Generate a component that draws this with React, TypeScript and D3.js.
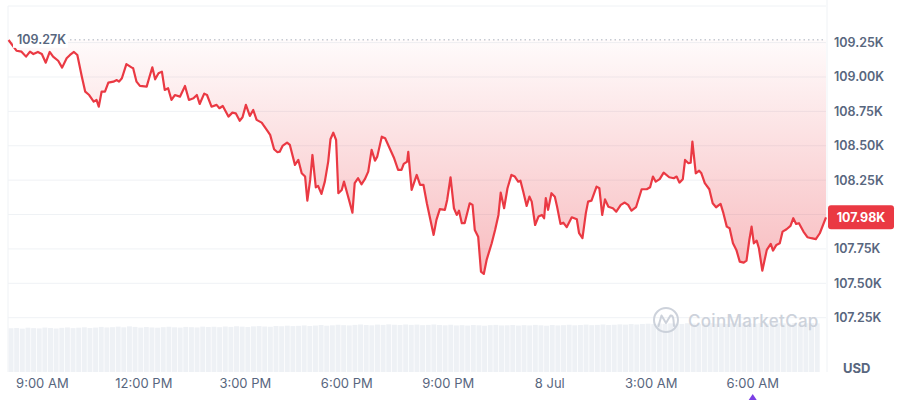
import * as d3 from 'd3';

// 7 Jul, minutes after 08:00 for each price read
const START = new Date(2025, 6, 7, 8, 0);
const minutes = [
  0, 14, 23, 31, 38, 44, 52, 59, 66, 73, 79, 88, 95, 103, 109, 116, 122, 130, 136, 143,
  151, 156, 160, 165, 171, 177, 186, 192, 196, 201, 209, 218, 221, 227, 233, 245, 250, 255, 260, 266,
  272, 277, 283, 289, 295, 304, 313, 320, 328, 334, 339, 347, 352, 360, 369, 374, 380, 390, 397, 403,
  410, 415, 421, 428, 434, 440, 449, 458, 464, 471, 477, 481, 486, 494, 499, 508, 514, 520, 526, 530,
  535, 539, 545, 549, 555, 561, 567, 571, 576, 581, 585, 591, 595, 602, 610, 614, 620, 626, 632, 638,
  644, 650, 654, 662, 668, 676, 684, 691, 697, 701, 707, 709, 715, 724, 730, 736, 742, 747, 754, 759,
  765, 774, 778, 784, 790, 795, 799, 804, 809, 818, 823, 827, 833, 838, 843, 848, 857, 863, 869, 873,
  879, 885, 892, 898, 904, 908, 913, 919, 924, 928, 934, 940, 946, 950, 953, 957, 963, 969, 973, 979,
  984, 990, 999, 1008, 1012, 1018, 1024, 1028, 1034, 1043, 1048, 1053, 1058, 1064, 1072, 1078, 1086, 1093, 1099, 1105,
  1113, 1123, 1132, 1138, 1143, 1148, 1155, 1162, 1172, 1180, 1185, 1190, 1196, 1200, 1206, 1210, 1213, 1219, 1225, 1229,
  1235, 1243, 1249, 1255, 1263, 1268, 1274, 1279, 1285, 1291, 1297, 1304, 1309, 1314, 1318, 1322, 1327, 1331, 1337, 1345,
  1352, 1356, 1362, 1368, 1373, 1380, 1387, 1392, 1397, 1402, 1410, 1417, 1424, 1432, 1439, 1450,
];
// price in thousands of USD
const prices = [
  109.269, 109.191, 109.184, 109.148, 109.184, 109.167, 109.182, 109.167, 109.104, 109.182, 109.148, 109.118, 109.068, 109.136, 109.16, 109.182, 109.16, 109.002, 108.893, 108.869,
  108.821, 108.833, 108.784, 108.893, 108.893, 108.959, 108.966, 108.978, 108.966, 108.991, 109.094, 109.07, 109.063, 108.966, 108.935, 108.93, 109.002, 109.07, 108.983, 109.027,
  109.039, 108.906, 108.918, 108.833, 108.869, 108.857, 108.935, 108.833, 108.845, 108.869, 108.804, 108.879, 108.869, 108.784, 108.797, 108.773, 108.789, 108.712, 108.741, 108.736,
  108.682, 108.707, 108.797, 108.717, 108.76, 108.688, 108.668, 108.615, 108.579, 108.475, 108.453, 108.457, 108.499, 108.523, 108.506, 108.361, 108.397, 108.3, 108.276, 108.101,
  108.252, 108.433, 108.198, 108.208, 108.15, 108.239, 108.385, 108.547, 108.595, 108.542, 108.155, 108.179, 108.239, 108.135, 108.014, 108.228, 108.264, 108.22, 108.257, 108.312,
  108.47, 108.392, 108.421, 108.566, 108.555, 108.482, 108.409, 108.324, 108.324, 108.368, 108.385, 108.455, 108.179, 108.288, 108.215, 108.215, 108.082, 107.985, 107.852, 107.961,
  108.039, 108.034, 108.106, 108.271, 108.046, 107.997, 108.028, 107.937, 107.937, 108.082, 108.07, 107.888, 107.839, 107.585, 107.568, 107.67, 107.791, 107.888, 107.997, 108.159,
  108.046, 108.191, 108.288, 108.276, 108.239, 108.246, 108.166, 108.063, 108.13, 108.094, 107.924, 107.985, 107.997, 107.973, 108.119, 108.034, 108.155, 108.13, 108.057, 107.932,
  107.941, 107.908, 107.98, 107.966, 107.864, 107.828, 108.01, 108.094, 108.101, 108.203, 108.191, 107.997, 108.11, 108.057, 108.046, 108.021, 108.07, 108.087, 108.07, 108.028,
  108.053, 108.184, 108.184, 108.198, 108.276, 108.239, 108.257, 108.305, 108.271, 108.264, 108.276, 108.232, 108.257, 108.397, 108.373, 108.377, 108.53, 108.3, 108.319, 108.3,
  108.228, 108.184, 108.082, 108.053, 108.077, 108.01, 107.912, 107.9, 107.791, 107.743, 107.658, 107.65, 107.665, 107.815, 107.912, 107.791, 107.81, 107.755, 107.592, 107.743,
  107.786, 107.738, 107.779, 107.791, 107.876, 107.893, 107.917, 107.973, 107.932, 107.937, 107.876, 107.835, 107.828, 107.821, 107.864, 107.98,
];
// 10-minute volume bars (relative, billions)
const volume = [
  32.4, 32.6, 32.1, 32.8, 32.5, 32.3, 32.9, 32.6, 32.2, 32.7, 33.0, 32.5, 32.8, 33.1, 32.6, 32.9, 33.4, 33.0,
  33.2, 33.6, 33.1, 33.8, 33.4, 32.9, 33.3, 33.0, 32.8, 33.2, 33.5, 33.1, 32.9, 33.4, 33.2, 33.0, 33.6, 33.3,
  33.5, 33.2, 33.7, 33.4, 33.9, 33.6, 33.3, 33.8, 34.0, 33.7, 33.5, 34.1, 33.9, 34.3, 34.0, 34.2, 34.5, 34.1,
  34.4, 34.8, 34.3, 34.6, 35.0, 34.7, 34.5, 34.9, 35.2, 34.8, 34.6, 35.1, 34.9, 35.3, 35.0, 34.8, 35.2, 34.9,
  35.1, 34.7, 34.9, 35.2, 34.8, 34.6, 35.0, 34.5, 34.7, 34.4, 34.8, 34.6, 34.3, 34.7, 34.9, 34.5, 34.6, 34.8,
  34.4, 34.7, 34.5, 34.9, 34.6, 34.3, 34.8, 34.5, 34.7, 35.0, 34.6, 34.8, 35.1, 34.7, 34.9, 35.2, 34.8, 35.0,
  35.3, 35.1, 35.5, 35.2, 35.6, 35.8, 35.5, 35.9, 35.7, 36.0, 35.8, 35.6, 36.1, 35.9, 35.7, 36.0, 36.2, 35.8,
  36.0, 35.7, 36.1, 35.9, 36.3, 36.0, 35.8, 36.2, 35.9, 36.1, 36.4, 36.0, 35.8, 36.2, 35.9, 36.1, 36.3, 36.0,
];
const priceTicks = [107.25, 107.5, 107.75, 108.0, 108.25, 108.5, 108.75, 109.0, 109.25];
const openPrice = 109.27;
const lastPrice = 107.98;

const RED = '#ea3943';
const TEXT = '#58667e';
const GRID = '#eff2f5';
const FONT = 'Inter, "Noto Sans", sans-serif';

const at = (m: number) => new Date(START.getTime() + m * 60000);

export default function App() {
  const left = 8;
  const right = 826;
  const top = 6;
  const volBottom = 372;

  const x = d3.scaleTime().domain([at(-1), at(1450)]).range([left, right]);
  const y = d3.scaleLinear().domain([107.25, 109.25]).range([317.7, 42.6]);
  const yVol = d3.scaleLinear().domain([0, 40]).range([volBottom, volBottom - 54]);

  const pts = minutes.map((m, i) => ({ t: at(m), p: prices[i] }));
  const line = d3.line<{ t: Date; p: number }>().x((d) => x(d.t)).y((d) => y(d.p));
  const area = d3
    .area<{ t: Date; p: number }>()
    .x((d) => x(d.t))
    .y0(y(openPrice))
    .y1((d) => y(d.p));

  const timeTicks = d3.timeHour.every(3)!.range(at(0), at(1450));
  const fmtTime = d3.timeFormat('%-I:%M %p');
  const fmtDay = d3.timeFormat('%-d %b');

  const barW = x(at(10)) - x(at(0));
  const lastY = y(lastPrice);
  // the last-price tag hides the tick label it sits on
  const shownTicks = priceTicks.filter((t) => Math.abs(y(t) - lastY) > 14);

  return (
    <div style={{ position: 'fixed', left: 0, top: 0, width: 900, height: 400, background: '#fff' }}>
      <svg width={900} height={400} style={{ display: 'block', fontFamily: FONT }}>
        <defs>
          <linearGradient id="fillGrad" gradientUnits="userSpaceOnUse" x1="0" y1={y(openPrice)} x2="0" y2={y(107.56)}>
            <stop offset="0" stopColor={RED} stopOpacity={0.02} />
            <stop offset="1" stopColor={RED} stopOpacity={0.34} />
          </linearGradient>
        </defs>

        {/* volume */}
        {volume.map((v, i) => (
          <rect
            key={i}
            x={x(at(i * 10))}
            y={yVol(v)}
            width={Math.max(barW - 0.7, 0.5)}
            height={volBottom - yVol(v)}
            fill="#eef1f5"
          />
        ))}

        {/* grid */}
        {priceTicks.map((t) => (
          <line key={t} x1={left} x2={right} y1={y(t)} y2={y(t)} stroke={GRID} strokeWidth={1} />
        ))}
        <line x1={left} x2={right} y1={top} y2={top} stroke={GRID} />
        <line x1={left} x2={left} y1={top} y2={volBottom} stroke={GRID} />
        <line x1={right + 1} x2={right + 1} y1={0} y2={volBottom} stroke={GRID} />

        {/* watermark */}
        <g opacity={0.9}>
          <circle cx={666} cy={320} r={12} fill="none" stroke="#c8ced8" strokeWidth={2} />
          <path
            d="M658.5,326 L661.5,315.5 L666,323 L670.5,315.5 Q673,315 673.5,320 L674,326"
            fill="none"
            stroke="#c8ced8"
            strokeWidth={2}
            strokeLinejoin="round"
            strokeLinecap="round"
          />
          <text x={688} y={327} fontSize={17} fontWeight={500} fill="#c8ced8" letterSpacing={0.3}>
            CoinMarketCap
          </text>
        </g>

        {/* baseline */}
        <line
          x1={70}
          x2={right}
          y1={y(openPrice)}
          y2={y(openPrice)}
          stroke="#aab2bd"
          strokeWidth={1}
          strokeDasharray="1.5 3"
        />

        <path d={area(pts) ?? ''} fill="url(#fillGrad)" />
        <path d={line(pts) ?? ''} fill="none" stroke={RED} strokeWidth={2.2} strokeLinejoin="round" />

        {/* open label */}
        <rect x={13} y={y(openPrice) - 8} width={55} height={16} fill="#fff" />
        <text x={17} y={y(openPrice)} dy="0.35em" fontSize={12.5} fontWeight={600} fill={TEXT}>
          {`${openPrice.toFixed(2)}K`}
        </text>

        {/* y axis */}
        {shownTicks.map((t) => (
          <text key={t} x={834} y={y(t)} dy="0.35em" fontSize={12.5} fontWeight={600} fill={TEXT}>
            {`${t.toFixed(2)}K`}
          </text>
        ))}
        <rect x={828} y={lastY - 12} width={66} height={24} rx={3} fill={RED} />
        <text x={861} y={lastY} dy="0.35em" textAnchor="middle" fontSize={12.5} fontWeight={700} fill="#fff">
          {`${lastPrice.toFixed(2)}K`}
        </text>
        <text x={843} y={368} dy="0.35em" fontSize={13} fontWeight={700} fill={TEXT}>
          USD
        </text>

        {/* x axis */}
        {timeTicks.map((d) => (
          <text
            key={d.getTime()}
            x={x(d)}
            y={383}
            dy="0.35em"
            textAnchor="middle"
            fontSize={13}
            fill={TEXT}
          >
            {d.getHours() === 0 ? fmtDay(d) : fmtTime(d)}
          </text>
        ))}

        {/* event marker */}
        <path d={`M${x(at(1320)) - 4},400 L${x(at(1320))},394 L${x(at(1320)) + 4},400 Z`} fill="#7b3fe4" />
      </svg>
    </div>
  );
}
